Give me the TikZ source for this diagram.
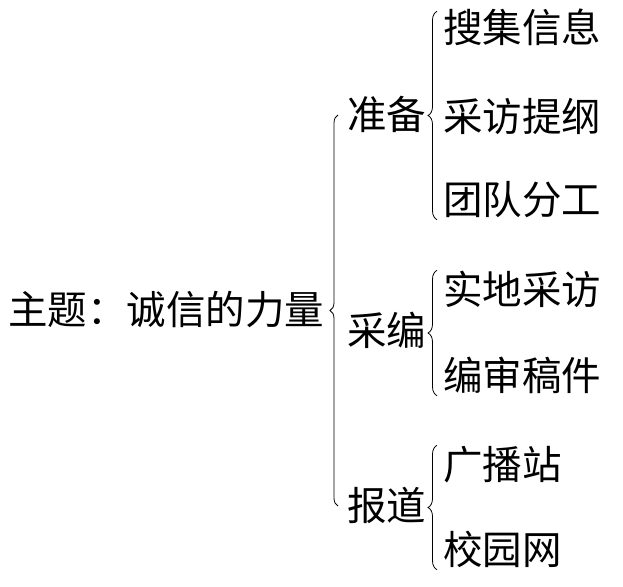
\documentclass[tikz,border=0pt]{standalone}
\usepackage{fontspec}
\newfontfamily\cjk{Noto Sans CJK SC}
\usepackage{tikz}
\usetikzlibrary{positioning,calc,decorations.pathreplacing}
\tikzset{
  lbl/.style={font=\cjk\fontsize{39.5pt}{40pt}\selectfont, inner sep=0pt,
    text height=34pt, text depth=5pt, anchor=west},
  bigbrace/.style={decorate, decoration={brace, amplitude=8pt}, line width=0.8pt},
  subbrace/.style={decorate, decoration={brace, amplitude=9pt}, line width=0.8pt},
}

\begin{document}
\begin{tikzpicture}[x=1pt,y=1pt]
        \useasboundingbox (0,0) rectangle (623,-586);
        % theme and the three stages
        \node[lbl] (topic) at (8,-310) {主题：诚信的力量};
        \node[lbl] (prep) at (347,-115) {准备};
        \node[lbl] (edit) at (347,-331) {采编};
        \node[lbl] (report) at (347,-506) {报道};
        % tasks
        \node[lbl] (prep1) at (443,-28) {搜集信息};
        \node[lbl] (prep2) at (443,-117) {采访提纲};
        \node[lbl] (prep3) at (443,-200) {团队分工};
        \node[lbl] (edit1) at (443,-290) {实地采访};
        \node[lbl] (edit2) at (443,-376) {编审稿件};
        \node[lbl] (report1) at (443,-465) {广播站};
        \node[lbl] (report2) at (443,-550) {校园网};
        % braces
        \draw[bigbrace] ([xshift=-9pt]report.west) -- ([xshift=-9pt]prep.west);
        \draw[subbrace] ([xshift=-6pt]prep3.south west) -- ([xshift=-6pt,yshift=-3pt]prep1.north west);
        \draw[subbrace] ([xshift=-6pt]edit2.south west) -- ([xshift=-6pt]edit1.north west);
        \draw[subbrace] ([xshift=-6pt]report2.south west) -- ([xshift=-6pt]report1.north west);
      \end{tikzpicture}
\end{document}
